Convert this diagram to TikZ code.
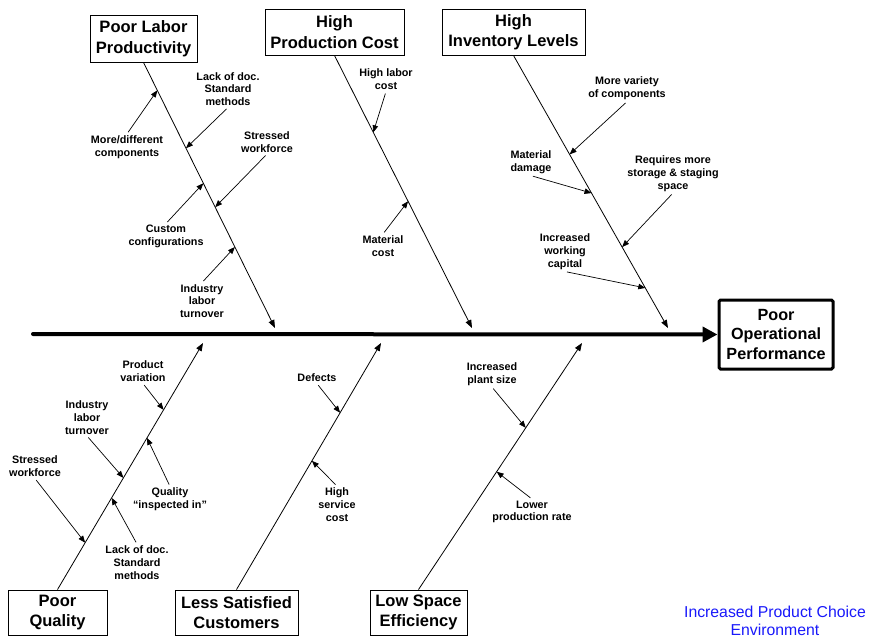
\documentclass[tikz,border=0pt]{standalone}
\usepackage{fontspec}
\setmainfont{Liberation Sans}
\usetikzlibrary{arrows.meta,calc}
\definecolor{envblue}{RGB}{25,25,250}

\begin{document}
\begin{tikzpicture}[x=1pt,y=-1pt,
  cat/.style={draw,line width=0.9pt,align=center,
    font=\fontsize{16.5}{20.5}\selectfont\bfseries,inner sep=0pt},
  effectbox/.style={draw,line width=3pt,rounded corners=1.5pt,align=center,
    font=\fontsize{16.2}{19.5}\selectfont\bfseries,inner sep=0pt,
    minimum width=114pt,minimum height=69pt},
  cause/.style={align=center,font=\fontsize{10.8}{12.8}\selectfont\bfseries,
    inner sep=1.5pt},
  bone/.style={line width=0.8pt,-{Triangle[length=8pt,width=6pt]}},
  sub/.style={line width=0.7pt,-{Triangle[length=7pt,width=5.5pt]},shorten <=2pt},
]
\useasboundingbox (0,0) rectangle (870,639);

% ---- effect and spine ----
\node[effectbox] (effect) at (776,334.5) {Poor\\Operational\\Performance};
\coordinate (tail) at (33,334);
\draw[line width=4pt,line cap=round,-{Triangle[length=15pt,width=15pt]}]
  (tail) -- (effect.west);

% ---- category boxes ----
\node[cat,minimum width=107pt,minimum height=47pt] (labor) at (143.5,38.5)
  {Poor Labor\\Productivity};
\node[cat,minimum width=139pt,minimum height=46pt] (cost) at (334.5,32)
  {High\\Production Cost};
\node[cat,minimum width=143pt,minimum height=46pt] (inv) at (513.5,32)
  {High\\Inventory Levels};
\node[cat,minimum width=99pt,minimum height=45pt] (qual) at (57.5,612.5)
  {Poor\\Quality};
\node[cat,minimum width=123pt,minimum height=45pt] (cust) at (236.5,612.5)
  {Less Satisfied\\Customers};
\node[cat,minimum width=97pt,minimum height=45pt] (space) at (418.5,612.5)
  {Low Space\\Efficiency};

% ---- bone ends at the spine ----
\coordinate (e1) at (275,328);
\coordinate (e2) at (472,328);
\coordinate (e3) at (668,328);
\coordinate (e4) at (203,343);
\coordinate (e5) at (381,343);
\coordinate (e6) at (582,343);

\draw[bone] (labor.south) -- (e1);
\draw[bone] (cost.south) -- (e2);
\draw[bone] (inv.south) -- (e3);
\draw[bone] (qual.north) -- (e4);
\draw[bone] (cust.north) -- (e5);
\draw[bone] (space.north) -- (e6);

% ---- points on the bones ----
\coordinate (pMore)  at ($(labor.south)!0.105!(e1)$);
\coordinate (pLack)  at ($(labor.south)!0.323!(e1)$);
\coordinate (pCust)  at ($(labor.south)!0.455!(e1)$);
\coordinate (pStr)   at ($(labor.south)!0.545!(e1)$);
\coordinate (pInd)   at ($(labor.south)!0.695!(e1)$);
\coordinate (pHL)    at ($(cost.south)!0.282!(e2)$);
\coordinate (pMat)   at ($(cost.south)!0.535!(e2)$);
\coordinate (pVar)   at ($(inv.south)!0.363!(e3)$);
\coordinate (pDam)   at ($(inv.south)!0.505!(e3)$);
\coordinate (pSto)   at ($(inv.south)!0.703!(e3)$);
\coordinate (pCap)   at ($(inv.south)!0.853!(e3)$);
\coordinate (qVar)   at ($(qual.north)!0.729!(e4)$);
\coordinate (qQual)  at ($(qual.north)!0.615!(e4)$);
\coordinate (qInd)   at ($(qual.north)!0.453!(e4)$);
\coordinate (qLack)  at ($(qual.north)!0.372!(e4)$);
\coordinate (qStr)   at ($(qual.north)!0.190!(e4)$);
\coordinate (cDef)   at ($(cust.north)!0.717!(e5)$);
\coordinate (cServ)  at ($(cust.north)!0.522!(e5)$);
\coordinate (sPlant) at ($(space.north)!0.656!(e6)$);
\coordinate (sLow)   at ($(space.north)!0.478!(e6)$);

% ---- causes: Poor Labor Productivity ----
\node[cause] (more) at (127,147) {More/different\\components};
\node[cause] (lack) at (228,89) {Lack of doc.\\Standard\\methods};
\node[cause] (stress) at (267,142) {Stressed\\workforce};
\node[cause] (custom) at (166,236.5) {Custom\\configurations};
\node[cause] (indus) at (202,301) {Industry\\labor\\turnover};
\draw[sub] (more.north) -- (pMore);
\draw[sub] (lack.south) -- (pLack);
\draw[sub] (stress.south) -- (pStr);
\draw[sub] (custom.north) -- (pCust);
\draw[sub] (indus.north) -- (pInd);

% ---- causes: High Production Cost ----
\node[cause] (hlabor) at (386,79.5) {High labor\\cost};
\node[cause] (matcost) at (383,246) {Material\\cost};
\draw[sub] (hlabor.south) -- (pHL);
\draw[sub] (matcost.north) -- (pMat);

% ---- causes: High Inventory Levels ----
\node[cause] (variety) at (627,88.5) {More variety\\of components};
\node[cause] (damage) at (531,162.5) {Material\\damage};
\node[cause] (storage) at (673,173.5) {Requires more\\storage \& staging\\space};
\node[cause] (capital) at (565,252) {Increased\\working\\capital};
\draw[sub] (variety.south) -- (pVar);
\draw[sub] (damage.south) -- (pDam);
\draw[sub] (storage.south) -- (pSto);
\draw[sub] (capital.south) -- (pCap);

% ---- causes: Poor Quality ----
\node[cause] (pvar) at (143,371.5) {Product\\variation};
\node[cause] (qindus) at (87,417.5) {Industry\\labor\\turnover};
\node[cause] (qstress) at (35,466.5) {Stressed\\workforce};
\node[cause] (insp) at (170,499.5) {Quality\\“inspected in”};
\node[cause] (qlack) at (137,562.5) {Lack of doc.\\Standard\\methods};
\draw[sub] (pvar.south) -- (qVar);
\draw[sub] (qindus.south) -- (qInd);
\draw[sub] (qstress.south) -- (qStr);
\draw[sub] (insp.north) -- (qQual);
\draw[sub] (qlack.north) -- (qLack);

% ---- causes: Less Satisfied Customers ----
\node[cause] (defects) at (317,378) {Defects};
\node[cause] (service) at (337,504.5) {High\\service\\cost};
\draw[sub] (defects.south) -- (cDef);
\draw[sub] (service.north) -- (cServ);

% ---- causes: Low Space Efficiency ----
\node[cause] (plant) at (492,374) {Increased\\plant size};
\node[cause] (lower) at (532,512) {Lower\\production rate};
\draw[sub] (plant.south) -- (sPlant);
\draw[sub] (lower.north) -- (sLow);

% ---- environment caption ----
\node[text=envblue,align=center,font=\fontsize{15.8}{18}\selectfont,inner sep=0pt]
  (env) at (775,621) {Increased Product Choice\\Environment};
\end{tikzpicture}
\end{document}
